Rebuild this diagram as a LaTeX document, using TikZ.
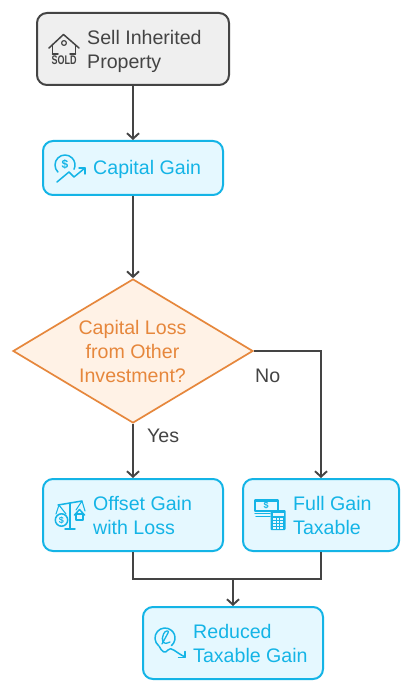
\documentclass[tikz,border=0pt]{standalone}
\usepackage{fontspec}
\setmainfont{Liberation Sans}
\usetikzlibrary{shapes.geometric,arrows.meta}
\definecolor{ink}{HTML}{444444}
\definecolor{cy}{HTML}{14B4E6}
\definecolor{cyfill}{HTML}{E5F8FF}
\definecolor{org}{HTML}{E6873C}
\definecolor{orgfill}{HTML}{FFF2E6}
\definecolor{grayfill}{HTML}{EFEFEF}
\tikzset{
 boxbase/.style={rectangle,rounded corners=10pt,line width=2pt,inner sep=0pt},
 bluebox/.style={boxbase,draw=cy,fill=cyfill},
 graybox/.style={boxbase,draw=ink,fill=grayfill},
 deci/.style={diamond,aspect=1.6667,draw=org,fill=orgfill,line width=1.7pt,inner sep=0pt,minimum width=240pt,minimum height=144pt},
 lab/.style={inner sep=0pt,align=left,font=\fontsize{19.6}{24}\selectfont,anchor=west},
 conn/.style={draw=ink,line width=1.9pt,-{Straight Barb[length=5.5pt,width=12pt,line width=1.9pt]}},
 plainconn/.style={draw=ink,line width=1.9pt},
 icon/.style={line width=1.5pt,line cap=round,line join=round},
}
\begin{document}
\begin{tikzpicture}[x=1pt,y=-1pt]
\useasboundingbox (0,0) rectangle (413,692);
\fill[white] (0,0) rectangle (413,692);
% boxes
\node[graybox,minimum width=192pt,minimum height=72pt] (sell) at (133,49) {};
\node[bluebox,minimum width=180pt,minimum height=54pt] (cap) at (133,168) {};
\node[deci] (dec) at (133,351) {};
\node[bluebox,minimum width=180pt,minimum height=72pt] (off) at (133,515) {};
\node[bluebox,minimum width=156pt,minimum height=72pt] (full) at (321,515) {};
\node[bluebox,minimum width=180pt,minimum height=72pt] (red) at (233,643) {};
% text
\node[lab,text=ink] (tsell) at (87,51) {Sell Inherited\\Property};
\node[lab,text=cy] (tcap) at (93,169.5) {Capital Gain};
\node[inner sep=0pt,align=center,font=\fontsize{19.6}{24}\selectfont,text=org] (tdec) at (132.5,351) {Capital Loss\\from Other\\Investment?};
\node[lab,text=cy] (toff) at (93,515.5) {Offset Gain\\with Loss};
\node[lab,text=cy] (tfull) at (293,515.5) {Full Gain\\Taxable};
\node[lab,text=cy] (tred) at (193,643.5) {Reduced\\Taxable Gain};
\node[lab,text=ink] (no) at (255,375.5) {No};
\node[lab,text=ink] (yes) at (147,435.5) {Yes};
% connectors
\coordinate (corner) at (dec.east -| full.north);
\coordinate (joinL) at (133,579);
\coordinate (joinR) at (321,579);
\coordinate (joinM) at (233,579);
\draw[conn] (sell.south) -- (cap.north);
\draw[conn] (cap.south) -- (dec.north);
\draw[conn] (dec.south) -- (off.north);
\draw[conn] (dec.east) -- (corner) -- (full.north);
\draw[plainconn] (off.south) -- (joinL) -- (joinR) -- (full.south);
\draw[conn] (joinM) -- (red.north);
% icon: sold house
\begin{scope}[icon,draw=ink]
\draw (49,48) -- (63.5,34.5) -- (79,48);
\draw (52.5,45) -- (52.5,54) (75.5,45) -- (75.5,54);
\draw (52.5,54) -- (58,54) (70,54) -- (75.5,54);
\draw[line width=1.2pt] (64,43) circle (2.4);
\end{scope}
\node[inner sep=0pt,text=ink,xscale=0.72,font=\bfseries\fontsize{12.5}{13}\selectfont] (sold) at (64,60) {SOLD};
% icon: capital gain
\begin{scope}[icon,draw=cy]
\draw (65,165) ++(135:10) arc[start angle=135,end angle=385,radius=10];
\draw (57,182) -- (69,172) -- (74,177) -- (85,168);
\draw (79,168) -- (85,168) -- (85,174);
\end{scope}
\node[inner sep=0pt,text=cy,font=\bfseries\fontsize{12}{13}\selectfont] (dol1) at (65,164) {\$};
% icon: scales
\begin{scope}[icon,draw=cy]
\draw (58,505) -- (82,501);
\draw (70,503) -- (70,529) (65,529) -- (75,529);
\draw[line width=1.1pt] (59,505) -- (56,514) (59,505) -- (66,514);
\draw[line width=1.1pt] (82,501) -- (76,510) (82,501) -- (85,511);
\draw (61.5,520) circle (6.2);
\draw (74.5,515) -- (79.5,509.5) -- (84.5,515);
\draw (76,514) rectangle (83,520);
\end{scope}
\node[inner sep=0pt,text=cy,font=\bfseries\fontsize{9}{9}\selectfont] (dol2) at (61.5,520) {\$};
% icon: money and calculator
\begin{scope}[icon,draw=cy]
\draw[line width=2.2pt] (255,500.5) rectangle (278,511);
\draw (255,513.5) -- (270,513.5) (256,516.5) -- (270,516.5);
\fill[cy,rounded corners=1pt] (270.5,510) rectangle (285.5,530);
\fill[cyfill] (273,513) rectangle (283.5,516);
\foreach \a in {273,276.6,280.2} \foreach \b in {518,521,524,527}
 \fill[cyfill] (\a,\b) rectangle ++(2.6,2);
\end{scope}
\node[inner sep=0pt,text=cy,font=\bfseries\fontsize{9}{9}\selectfont] (dol3) at (266,505.8) {\$};
% icon: reduced gain
\begin{scope}[icon,draw=cy]
\draw (165,638) ++(130:10) arc[start angle=130,end angle=410,radius=10];
\draw (159,646) .. controls (162,652) and (165,654) .. (168,650) .. controls (171,646) and (175,652) .. (185,657);
\draw (178.5,657.5) -- (185,657.5) -- (185,651.5);
\draw[line width=1.3pt] (162,644) -- (168,633) .. controls (170,630) and (165,630) .. (163.5,634) .. controls (161,640) and (162,646) .. (170,642);
\end{scope}
\end{tikzpicture}
\end{document}
